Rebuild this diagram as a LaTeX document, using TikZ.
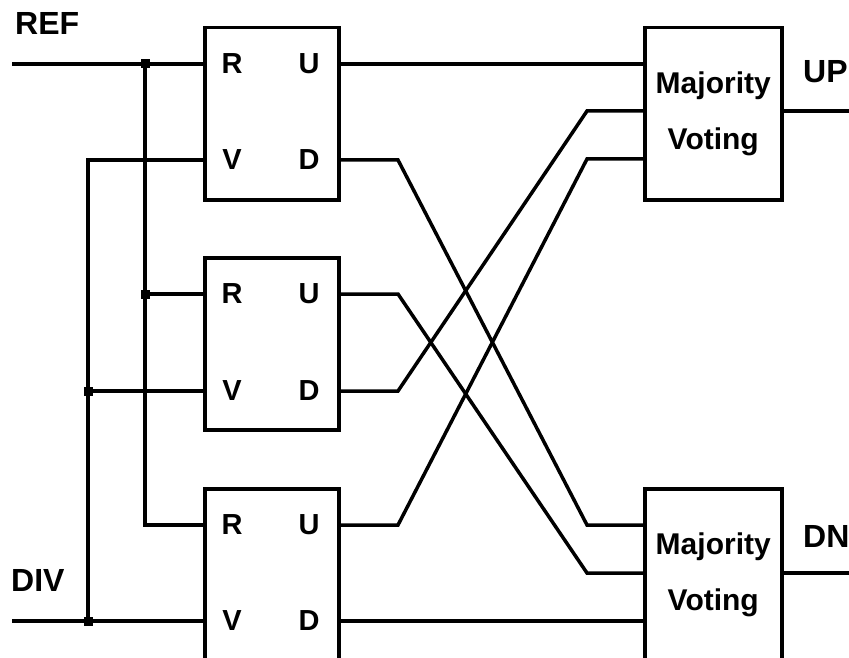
\documentclass[tikz,border=0pt]{standalone}
\usepackage{fontspec}
\setmainfont{Liberation Sans}
\begin{document}
\begin{tikzpicture}[x=1pt,y=-1pt,
  wire/.style={line width=3.5pt},
  blockbox/.style={draw, line width=3.5pt, rectangle, minimum width=134pt,
    minimum height=172pt, inner sep=0pt, anchor=north west},
  votebox/.style={blockbox, minimum width=137pt, align=center,
    font=\fontsize{30}{56}\selectfont\bfseries},
  pinlabel/.style={font=\fontsize{29}{29}\selectfont\bfseries, inner sep=0pt},
  siglabel/.style={font=\fontsize{32}{32}\selectfont\bfseries, inner sep=0pt, anchor=west},
  junction/.style={fill, rectangle, minimum size=9pt, inner sep=0pt},
]
\useasboundingbox (0,0) rectangle (849,658);

% phase-frequency detector blocks
\node[blockbox] (pfdA) at (203,26) {};
\node[blockbox] (pfdB) at (203,256) {};
\node[blockbox] (pfdC) at (203,487) {};

% majority voting blocks
\node[votebox] (mvA) at (643,26) {Majority\\Voting};
\node[votebox] (mvB) at (643,487) {Majority\\Voting};

% pin labels
\foreach \blk/\yu/\yd in {A/64/160, B/294/391, C/525/621}{
  \node[pinlabel] (lR\blk) at (232,\yu) {R};
  \node[pinlabel] (lU\blk) at (309,\yu) {U};
  \node[pinlabel] (lV\blk) at (232,\yd) {V};
  \node[pinlabel] (lD\blk) at (309,\yd) {D};
}

% pin positions on the block edges
\coordinate (aR) at (203,64);  \coordinate (aU) at (337,64);
\coordinate (aV) at (203,160); \coordinate (aD) at (337,160);
\coordinate (bR) at (203,294); \coordinate (bU) at (337,294);
\coordinate (bV) at (203,391); \coordinate (bD) at (337,391);
\coordinate (cR) at (203,525); \coordinate (cU) at (337,525);
\coordinate (cV) at (203,621); \coordinate (cD) at (337,621);

\coordinate (mA1) at (643,64);  \coordinate (mA2) at (643,111);
\coordinate (mA3) at (643,159); \coordinate (mAout) at (780,111);
\coordinate (mB1) at (643,525); \coordinate (mB2) at (643,573);
\coordinate (mB3) at (643,621); \coordinate (mBout) at (780,573);

\coordinate (refIn) at (12,64);
\coordinate (divIn) at (12,621);
\coordinate (upEnd) at (849,111);
\coordinate (dnEnd) at (849,573);

% REF distribution
\node[junction] (jA) at (145,64) {};
\node[junction] (jB) at (145,294) {};
\draw[wire] (refIn) -- (aR);
\draw[wire] (jA.center) |- (cR);
\draw[wire] (jB.center) -- (bR);

% DIV distribution
\node[junction] (jC) at (88,391) {};
\node[junction] (jD) at (88,621) {};
\draw[wire] (divIn) -- (cV);
\draw[wire] (jD.center) |- (aV);
\draw[wire] (jC.center) -- (bV);

% detector outputs to the voters
\draw[wire] (aU) -- (mA1);
\draw[wire] (aD) -- ++(61,0) -- ([xshift=-56pt]mB1) -- (mB1);
\draw[wire] (bU) -- ++(61,0) -- ([xshift=-56pt]mB2) -- (mB2);
\draw[wire] (bD) -- ++(61,0) -- ([xshift=-56pt]mA2) -- (mA2);
\draw[wire] (cU) -- ++(61,0) -- ([xshift=-56pt]mA3) -- (mA3);
\draw[wire] (cD) -- (mB3);

% voter outputs
\draw[wire] (mAout) -- (upEnd);
\draw[wire] (mBout) -- (dnEnd);

% signal names
\node[siglabel] (refLbl) at (15,23) {REF};
\node[siglabel] (divLbl) at (11,580) {DIV};
\node[siglabel] (upLbl) at (803,72) {UP};
\node[siglabel] (dnLbl) at (803,536) {DN};
\end{tikzpicture}
\end{document}
